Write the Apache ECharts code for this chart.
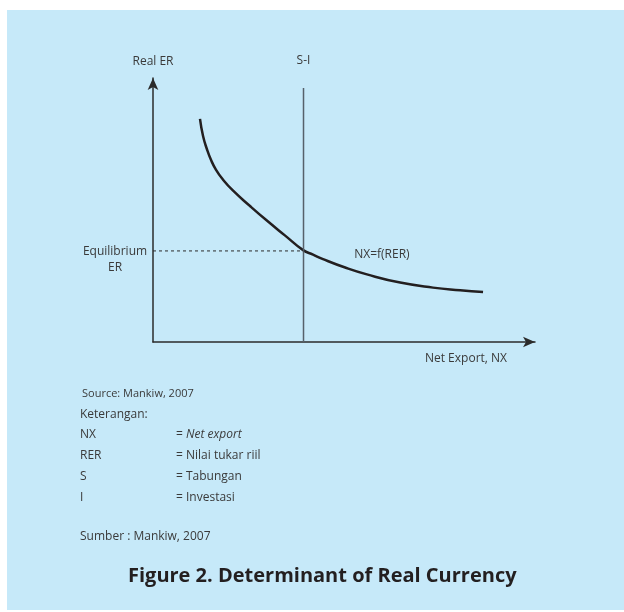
<!DOCTYPE html>
<html>
<head>
<meta charset="utf-8">
<script src="https://cdn.jsdelivr.net/npm/echarts@6/dist/echarts.min.js"></script>
<style>
  html, body { margin: 0; padding: 0; background: #ffffff; }
  #chart { width: 624px; height: 612px; }
</style>
</head>
<body>
<div id="chart"></div>
<script>
// NX = f(RER) curve (x: net export, y: real ER, 0-100 scale)
const curveX = [12.3, 13.1, 14.1, 15.2, 16.5, 18.1, 20.9, 25.4, 29.8, 34.6, 39.3, 41.9, 44.5, 50.3, 56.0, 64.7, 73.3, 80.4, 86.4];
const curveY = [84.5, 78.0, 73.1, 68.9, 65.2, 61.9, 57.4, 51.5, 46.0, 40.3, 34.8, 33.1, 31.4, 28.2, 25.6, 22.5, 20.6, 19.6, 18.9];

// S-I vertical line and equilibrium level
const siX = 39.4;
const siTop = 96.2;
const eqY = 34.5;

const notesKeys = ['NX', 'RER', 'S', 'I'];
const notesVals = ['= {i|Net export}', '= Nilai tukar riil', '= Tabungan', '= Investasi'];

const font = '"Open Sans", sans-serif';
const textColor = '#3a3a3a';

const chart = echarts.init(document.getElementById('chart'));

const noteGraphics = [];
notesKeys.forEach((k, i) => {
  const y = 433 + i * 20.7;
  noteGraphics.push({
    type: 'text', left: 80, top: y - 4,
    style: { text: k, font: '12px ' + font, fill: textColor }
  });
  noteGraphics.push({
    type: 'text', left: 176, top: y - 4,
    style: {
      text: notesVals[i], font: '12px ' + font, fill: textColor,
      rich: { i: { fontStyle: 'italic', fontSize: 12, fontFamily: font, color: textColor } }
    }
  });
});

const hiddenDot = { symbol: 'circle', symbolSize: 0 };

chart.setOption({
  animation: false,
  backgroundColor: 'transparent',
  grid: { left: 153, right: 89, top: 78, bottom: 270 },
  xAxis: {
    type: 'value', min: 0, max: 100,
    splitLine: { show: false }, axisTick: { show: false }, axisLabel: { show: false },
    axisLine: { show: true, symbol: ['none', 'arrow'], symbolSize: [8, 12], lineStyle: { color: '#2b2b2b', width: 1.5 } },
    name: 'Net Export, NX',
    nameLocation: 'end',
    nameGap: -28,
    nameTextStyle: { align: 'right', verticalAlign: 'top', padding: [11, 0, 0, 0], fontFamily: font, fontSize: 12, color: textColor }
  },
  yAxis: {
    type: 'value', min: 0, max: 100,
    splitLine: { show: false }, axisTick: { show: false }, axisLabel: { show: false },
    axisLine: { show: true, symbol: ['none', 'arrow'], symbolSize: [8, 12], lineStyle: { color: '#2b2b2b', width: 1.5 } },
    name: 'Real ER',
    nameLocation: 'end',
    nameGap: 10,
    nameTextStyle: { fontFamily: font, fontSize: 12, color: textColor }
  },
  graphic: [
    { type: 'rect', z: -10, shape: { x: 7, y: 10, width: 617, height: 600 }, style: { fill: '#c6e9f9' } },
    {
      type: 'text', left: 82, top: 388,
      style: { text: 'Source: Mankiw, 2007', font: '11px ' + font, fill: textColor }
    },
    {
      type: 'text', left: 80, top: 409,
      style: { text: 'Keterangan:', font: '12px ' + font, fill: textColor }
    },
    ...noteGraphics,
    {
      type: 'text', left: 128, top: 566,
      style: { text: 'Figure 2. Determinant of Real Currency', font: 'bold 20px ' + font, fill: '#231f20' }
    },
    {
      type: 'text', left: 80, top: 531,
      style: { text: 'Sumber : Mankiw, 2007', font: '12px ' + font, fill: textColor }
    }
  ],
  series: [
    {
      name: 'NX=f(RER)',
      type: 'line',
      smooth: 0.5,
      ...hiddenDot,
      lineStyle: { color: '#231f20', width: 2.5 },
      data: curveX.map((x, i) => {
        const item = { value: [x, curveY[i]] };
        if (i === 14) {
          item.label = {
            show: true, position: 'top', distance: 14, offset: [15, 0],
            formatter: 'NX=f(RER)', fontFamily: font, fontSize: 12, color: textColor
          };
        }
        return item;
      })
    },
    {
      name: 'S-I',
      type: 'line',
      ...hiddenDot,
      lineStyle: { color: '#56616b', width: 1.5 },
      data: [
        [siX, 0],
        { value: [siX, siTop], label: { show: true, position: 'top', distance: 21, formatter: 'S-I', fontFamily: font, fontSize: 12, color: textColor } }
      ]
    },
    {
      name: 'Equilibrium ER',
      type: 'line',
      ...hiddenDot,
      lineStyle: { color: '#2b2b2b', width: 1, type: [3, 3] },
      data: [
        { value: [0, eqY], label: { show: true, position: 'left', distance: 38, align: 'center', offset: [0, 9], lineHeight: 16, formatter: 'Equilibrium\nER', fontFamily: font, fontSize: 12, color: textColor } },
        [siX, eqY]
      ]
    }
  ]
});
</script>
</body>
</html>
